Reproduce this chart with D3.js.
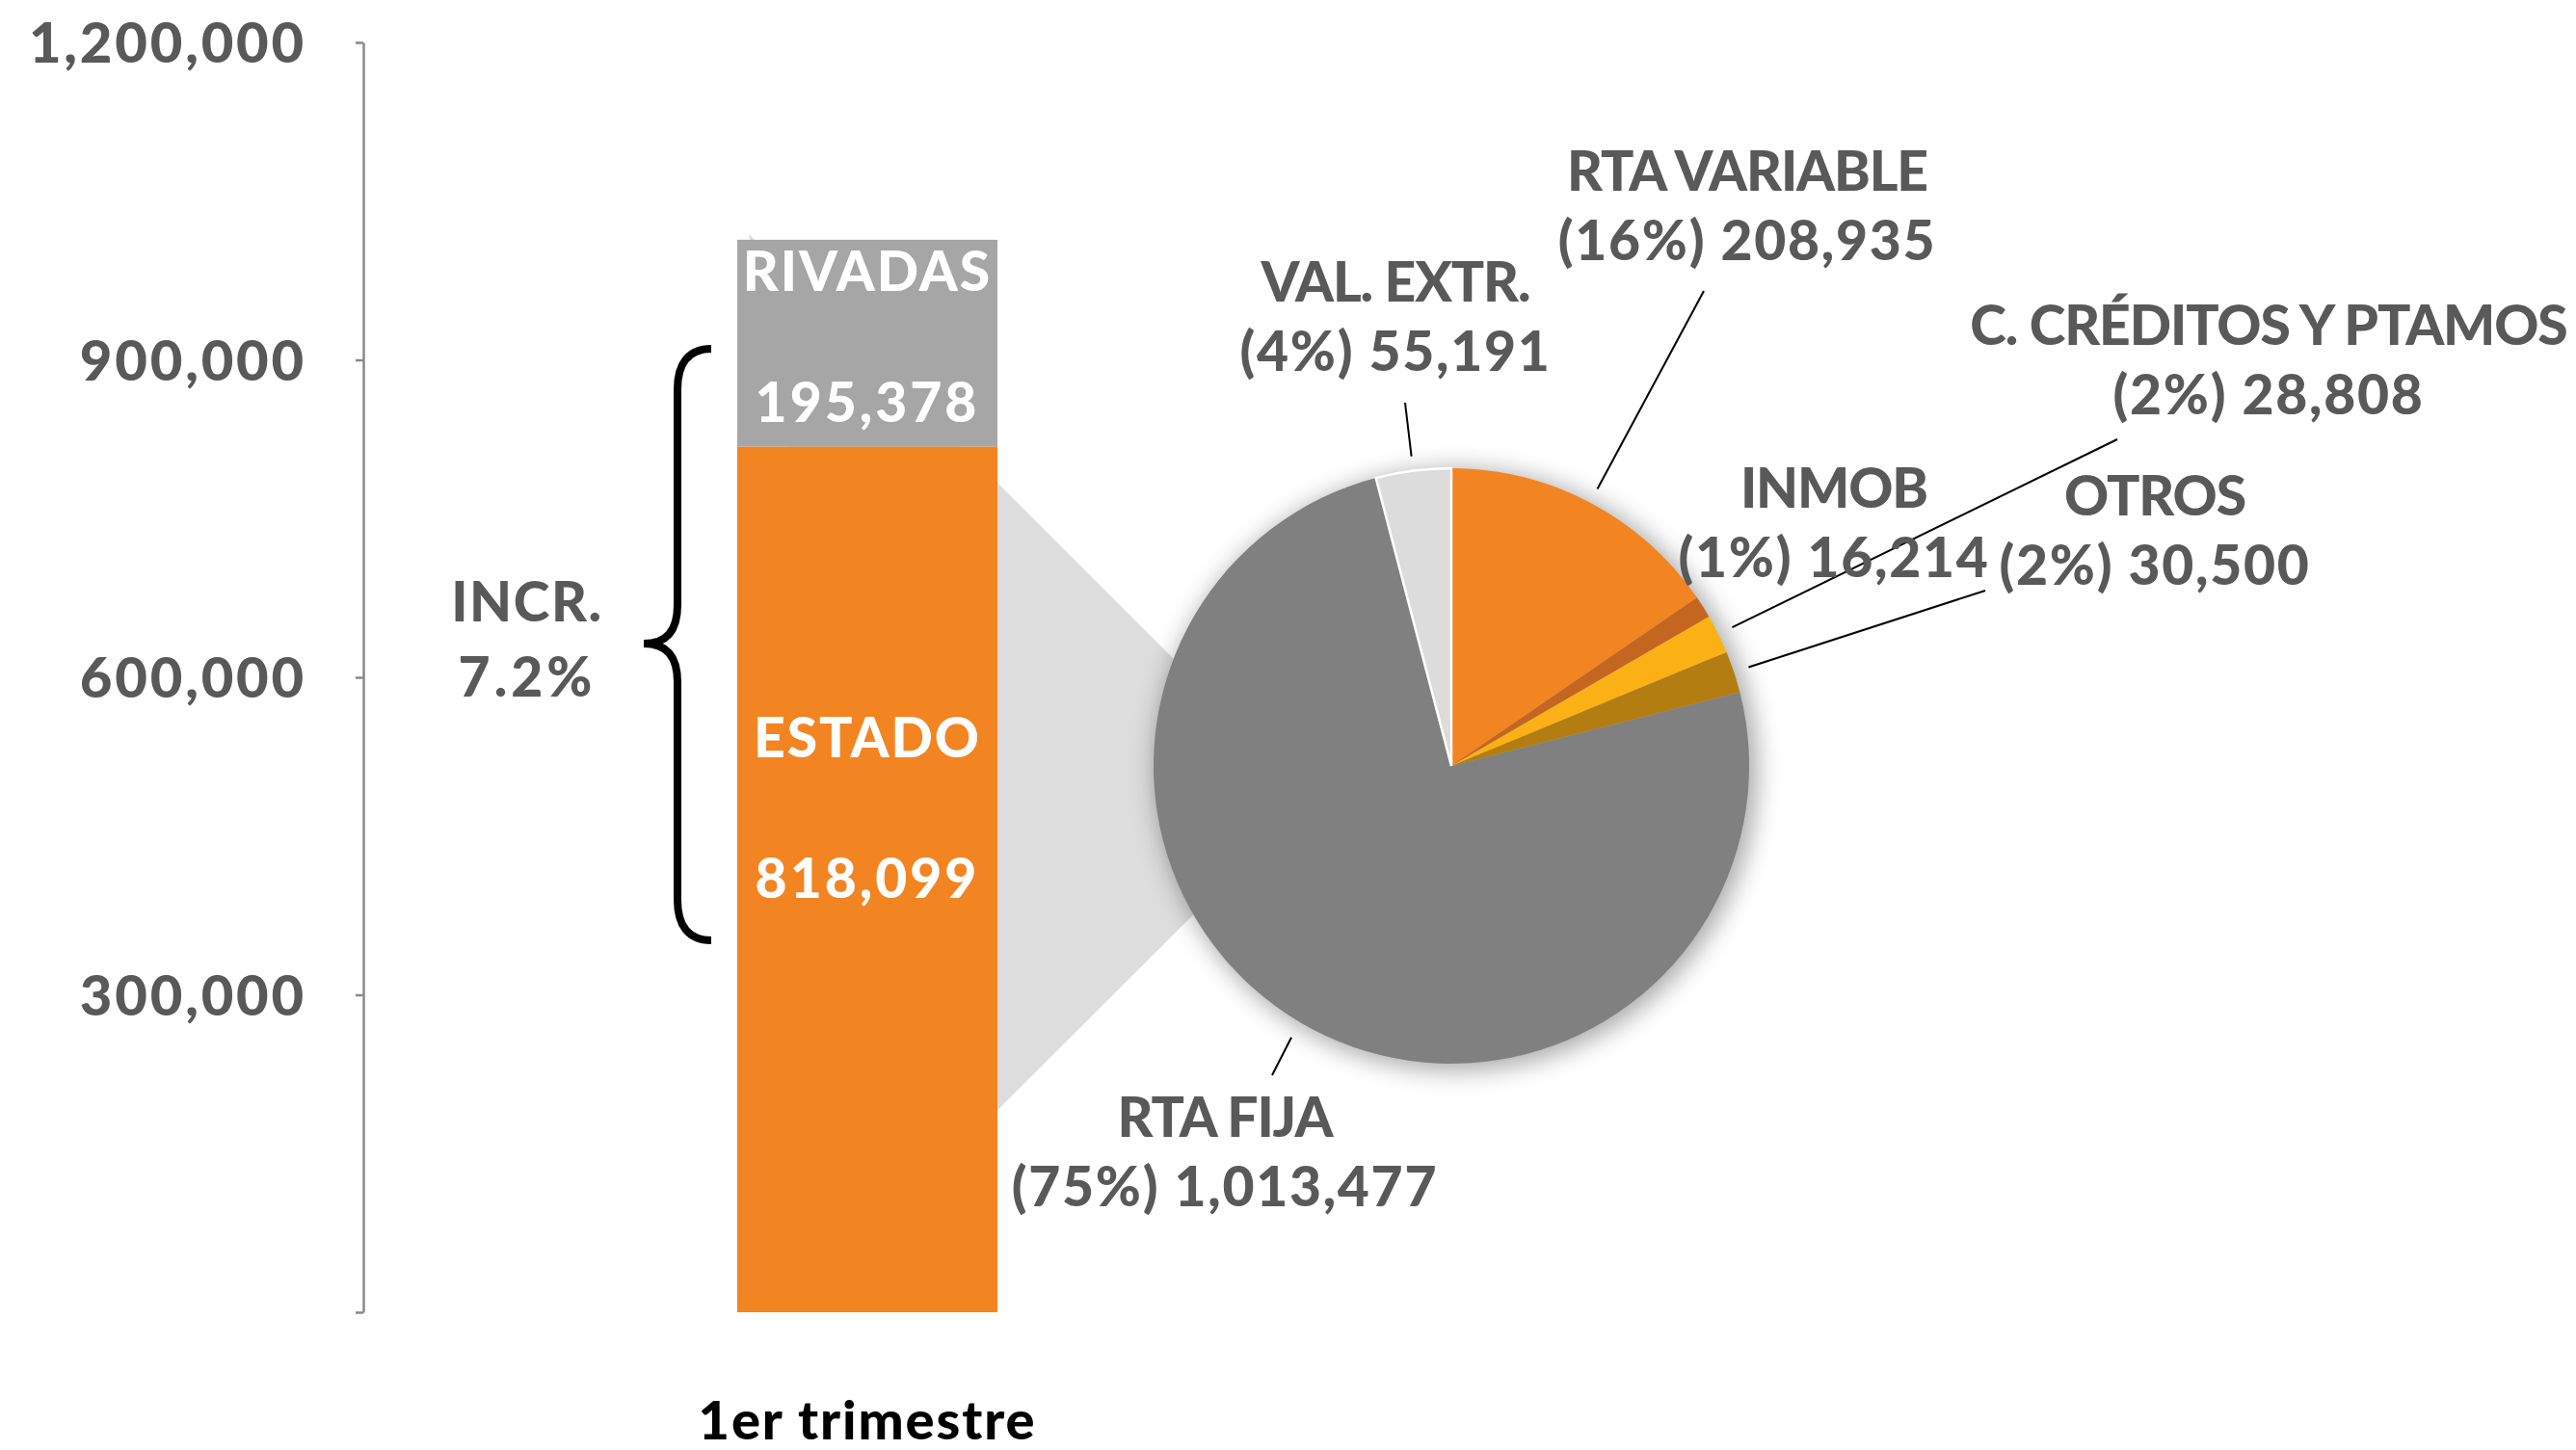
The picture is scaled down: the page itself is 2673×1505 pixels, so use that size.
<!DOCTYPE html>
<html><head><meta charset="utf-8">
<script src="https://cdn.jsdelivr.net/npm/d3@7"></script>
<style>
body{margin:0;background:#fff}
svg{display:block}
text{font-family:Lato,'Open Sans',sans-serif;font-weight:900}
</style>
</head><body>
<svg id="c" width="2673" height="1505"></svg>
<script>
// ---- data ----
const categories = ["1er trimestre"];
const barSeries = ["ESTADO", "RIVADAS"];
const estadoValues = [818099];
const privadasValues = [195378];
const yTicks = [0, 300000, 600000, 900000, 1200000];
const yTickLabels = ["", "300,000", "600,000", "900,000", "1,200,000"];
const pieLabels = ["RTA VARIABLE", "INMOB", "C. CRÉDITOS Y PTAMOS", "OTROS", "RTA FIJA", "VAL. EXTR."];
const pieValues = [208935, 16214, 28808, 30500, 1013477, 55191];
const piePercents = ["16%", "1%", "2%", "2%", "75%", "4%"];
const incrementLabel = ["INCR.", "7.2%"];

// ---- layout / style ----
const svg = d3.select("#c");
const gray = "#595959";
const fs = 57;
const barColors = {ESTADO: "#F28522", RIVADAS: "#A6A6A6"};
const pieColors = ["#F28522", "#C4661F", "#FBB016", "#B47D11", "#808080", "#DCDCDC"];
const cx = 1506, cy = 795, R = 309;

const y = d3.scaleLinear().domain([0, 1200000]).range([1362, 44]);
const x = d3.scaleBand().domain(categories).range([377, 1423]).paddingInner(0).paddingOuter(1.437);

// connector wedge (behind)
svg.append("polygon")
  .attr("points", [[777, 243], [1361, 827], [950, 1237]].map(p => p.join(",")).join(" "))
  .attr("fill", "#DDDDDD");

// pie shadow
const defs = svg.append("defs");
const f = defs.append("filter").attr("id", "sh")
  .attr("x", "-40%").attr("y", "-40%").attr("width", "180%").attr("height", "180%");
f.append("feGaussianBlur").attr("stdDeviation", 13);
svg.append("circle").attr("cx", cx + 5).attr("cy", cy + 4).attr("r", R + 3)
  .attr("fill", "#000").attr("opacity", 0.34).attr("filter", "url(#sh)");

// pie
const pie = d3.pie().sort(null).value(d => d)(pieValues);
const arc = d3.arc().innerRadius(0).outerRadius(R);
const pg = svg.append("g").attr("transform", `translate(${cx},${cy})`);
pg.selectAll("path").data(pie).join("path")
  .attr("d", arc)
  .attr("fill", (d, i) => pieColors[i])
  .attr("stroke", (d, i) => i === 5 ? "#fff" : "none")
  .attr("stroke-width", 2.5);

// leader lines
const leaderEnds = [[1768, 302], null, [2197, 456], [2060, 613], [1320, 1116], [1458, 418]];
const leaderR = [R + 16, 0, R + 16, R + 16, R + 18, R + 15];
pie.forEach((d, i) => {
  if (!leaderEnds[i]) return;
  const a = (d.startAngle + d.endAngle) / 2;
  const sx = cx + leaderR[i] * Math.sin(a), sy = cy - leaderR[i] * Math.cos(a);
  svg.append("line").attr("x1", sx).attr("y1", sy)
    .attr("x2", leaderEnds[i][0]).attr("y2", leaderEnds[i][1])
    .attr("stroke", "#000").attr("stroke-width", 2);
});

// pie labels
const labelPos = [[1813, 198], [1903, 527], [2354, 358], [2236, 535], [1271, 1180], [1448, 313]];
pie.forEach((d, i) => {
  const t = svg.append("text").attr("text-anchor", "middle").attr("fill", gray).attr("font-size", fs);
  t.append("tspan").attr("x", labelPos[i][0]).attr("y", labelPos[i][1])
    .attr("letter-spacing", -1.1).text(pieLabels[i]);
  t.append("tspan").attr("x", labelPos[i][0]).attr("y", labelPos[i][1] + 72)
    .attr("letter-spacing", 1.7)
    .text(`(${piePercents[i]}) ${d3.format(",")(pieValues[i])}`);
});

// stacked bar
const rows = categories.map((c, i) => ({cat: c, ESTADO: estadoValues[i], RIVADAS: privadasValues[i]}));
const stack = d3.stack().keys(barSeries)(rows);
svg.append("g").selectAll("g").data(stack).join("g")
  .attr("fill", s => barColors[s.key])
  .selectAll("rect").data(s => s).join("rect")
  .attr("x", d => x(d.data.cat)).attr("width", x.bandwidth())
  .attr("y", d => y(d[1])).attr("height", d => y(d[0]) - y(d[1]));

// bar labels
const barLabelOffsets = {RIVADAS: [53, 189], ESTADO: [323, 469]};
stack.forEach(s => {
  s.forEach(d => {
    const top = y(d[1]);
    const cxBar = x(d.data.cat) + x.bandwidth() / 2;
    const offs = barLabelOffsets[s.key];
    svg.append("text").attr("x", cxBar).attr("y", top + offs[0]).attr("text-anchor", "middle")
      .attr("letter-spacing", 2).attr("fill", "#fff").attr("font-size", fs).text(s.key);
    svg.append("text").attr("x", cxBar).attr("y", top + offs[1]).attr("text-anchor", "middle")
      .attr("letter-spacing", 3).attr("fill", "#fff").attr("font-size", fs)
      .text(d3.format(",")(d[1] - d[0]));
  });
});

// axis
const axis = d3.axisLeft(y).tickValues(yTicks).tickSize(8).tickSizeOuter(0).tickPadding(51)
  .tickFormat((d, i) => yTickLabels[i]);
const ag = svg.append("g").attr("transform", "translate(377,0)").call(axis);
ag.attr("font-family", null).attr("font-size", null);
ag.select(".domain").attr("stroke", "#898989").attr("stroke-width", 2.5);
ag.selectAll(".tick line").attr("stroke", "#898989").attr("stroke-width", 2.5);
ag.selectAll(".tick text").attr("fill", gray).attr("font-size", 58)
  .attr("letter-spacing", 2.8).attr("dy", "0.36em");

// category label
svg.append("text").attr("x", x(categories[0]) + x.bandwidth() / 2).attr("y", 1494)
  .attr("text-anchor", "middle").attr("fill", "#000").attr("font-size", 56)
  .attr("letter-spacing", 1.9).text(categories[0]);

// brace
svg.append("path")
  .attr("d", "M738,362 C714,362 703,378 703,404 L703,628 C703,654 692,668 668,668 C692,668 703,682 703,708 L703,934 C703,960 714,976 738,976")
  .attr("fill", "none").attr("stroke", "#000").attr("stroke-width", 8);

// increment label
svg.append("text").attr("x", 547).attr("y", 645).attr("text-anchor", "middle")
  .attr("letter-spacing", 1.6).attr("fill", gray).attr("font-size", fs).text(incrementLabel[0]);
svg.append("text").attr("x", 547).attr("y", 723).attr("text-anchor", "middle")
  .attr("letter-spacing", 4).attr("fill", gray).attr("font-size", fs).text(incrementLabel[1]);
</script>
</body></html>
